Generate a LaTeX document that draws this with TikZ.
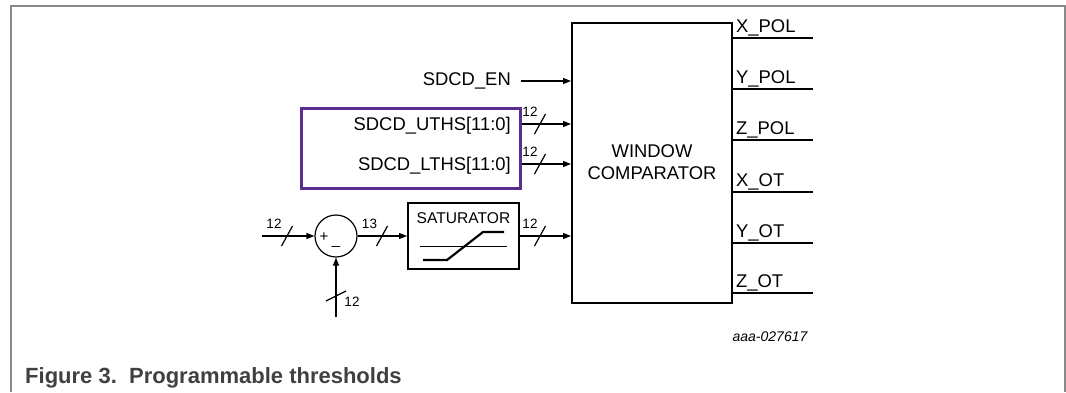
\documentclass[tikz,border=0pt]{standalone}
\usepackage{fontspec}
\setmainfont{Liberation Sans}
\usetikzlibrary{arrows.meta}
\definecolor{framegray}{HTML}{8A8A8A}
\definecolor{nxppurple}{HTML}{5B2D90}
\definecolor{captgray}{HTML}{404040}
\tikzset{
  lbl/.style={font=\fontsize{18.4}{22}\selectfont, inner sep=0pt},
  small/.style={font=\fontsize{13.5}{15}\selectfont, inner sep=0pt},
  sig/.style={line width=1.2pt},
  arr/.style={line width=1.2pt, -{Triangle[length=8pt,width=6pt]}},
  thickbox/.style={draw, line width=2pt, inner sep=0pt},
}
\begin{document}
\begin{tikzpicture}[x=1pt,y=-1pt]
\useasboundingbox (0,0) rectangle (1066,392);
% frame
\draw[framegray, line width=1.5pt] (11,392) -- (11,6) -- (1065,6) -- (1065,392);
\node[anchor=base west, inner sep=0pt, text=captgray, font=\fontsize{22}{26}\selectfont\bfseries] (cap) at (25,383) {Figure 3.\ \ Programmable thresholds};
\node[inner sep=0pt, font=\fontsize{14}{16}\selectfont\itshape] (id) at (770,337) {aaa-027617};

% window comparator
\node[thickbox, minimum width=160pt, minimum height=280pt] (wc) at (652,163) {};
\node[lbl, align=center] (wct) at (652,162) {WINDOW\\COMPARATOR};

% outputs
\foreach \nm/\yy/\tx in {xp/38/X\_POL, yp/89/Y\_POL, zp/140/Z\_POL, xo/192/X\_OT, yo/243/Y\_OT, zo/293/Z\_OT}{
  \coordinate (\nm s) at (732,\yy);
  \coordinate (\nm e) at (813,\yy);
  \draw[sig] (\nm s) -- (\nm e);
  \node[lbl, anchor=base west] (\nm t) at (736,\yy-6) {\tx};
}

% SDCD_EN
\node[lbl, anchor=east] (en) at (511,81) {SDCD\_EN};
\coordinate (ens) at (521,81);
\draw[arr] (ens) -- (ens -| wc.west);

% purple box
\node[draw=nxppurple, line width=3pt, minimum width=219pt, minimum height=80pt, inner sep=0pt] (pb) at (410.5,148) {};
\node[lbl, anchor=east] (uth) at (511,126) {SDCD\_UTHS[11:0]};
\node[lbl, anchor=east] (lth) at (511,166) {SDCD\_LTHS[11:0]};
\coordinate (us) at (pb.east |- 0,124);
\coordinate (ls) at (pb.east |- 0,164);
\draw[arr] (us) -- (us -| wc.west);
\draw[arr] (ls) -- (ls -| wc.west);

% saturator row
\coordinate (in1) at (262,236);
\node[draw, circle, line width=1.2pt, minimum size=42pt, inner sep=0pt] (sum) at (336,236) {};
\node[font=\fontsize{15}{16}\selectfont, inner sep=0pt] (plus) at (324,237) {+};
\node[font=\fontsize{15}{16}\selectfont, inner sep=0pt] (minus) at (336,246) {\_};
\node[thickbox, minimum width=111pt, minimum height=66pt] (sat) at (463.5,236) {};
\node[font=\fontsize{15.6}{18}\selectfont, inner sep=0pt] (satt) at (463.5,218) {SATURATOR};
\draw[line width=1pt] (420,246) -- (507,246);
\draw[line width=2.2pt] (423,260) -- (447,260) -- (483,232) -- (504,232);
\draw[arr] (in1) -- (sum.west);
\draw[arr] (sum.east) -- (sat.west);
\draw[arr] (sat.east) -- (sat.east -| wc.west);
\coordinate (in2) at (336,317);
\draw[arr] (in2) -- (sum.south);

% bus slashes and widths
\foreach \xx/\yy/\w/\nm/\dl in {287/236/12/b1/13, 382/236/13/b2/12.5, 540/236/12/b3/10, 540/124/12/b4/10, 540/164/12/b5/10}{
  \draw[line width=1.2pt] (\xx-5.5,\yy+10) -- (\xx+5.5,\yy-10);
  \node[small] (\nm) at (\xx-\dl,\yy-12) {\w};
}
\draw[line width=1.2pt] (326,301) -- (346,291);
\node[small] (b6) at (352,302) {12};
\end{tikzpicture}
\end{document}
